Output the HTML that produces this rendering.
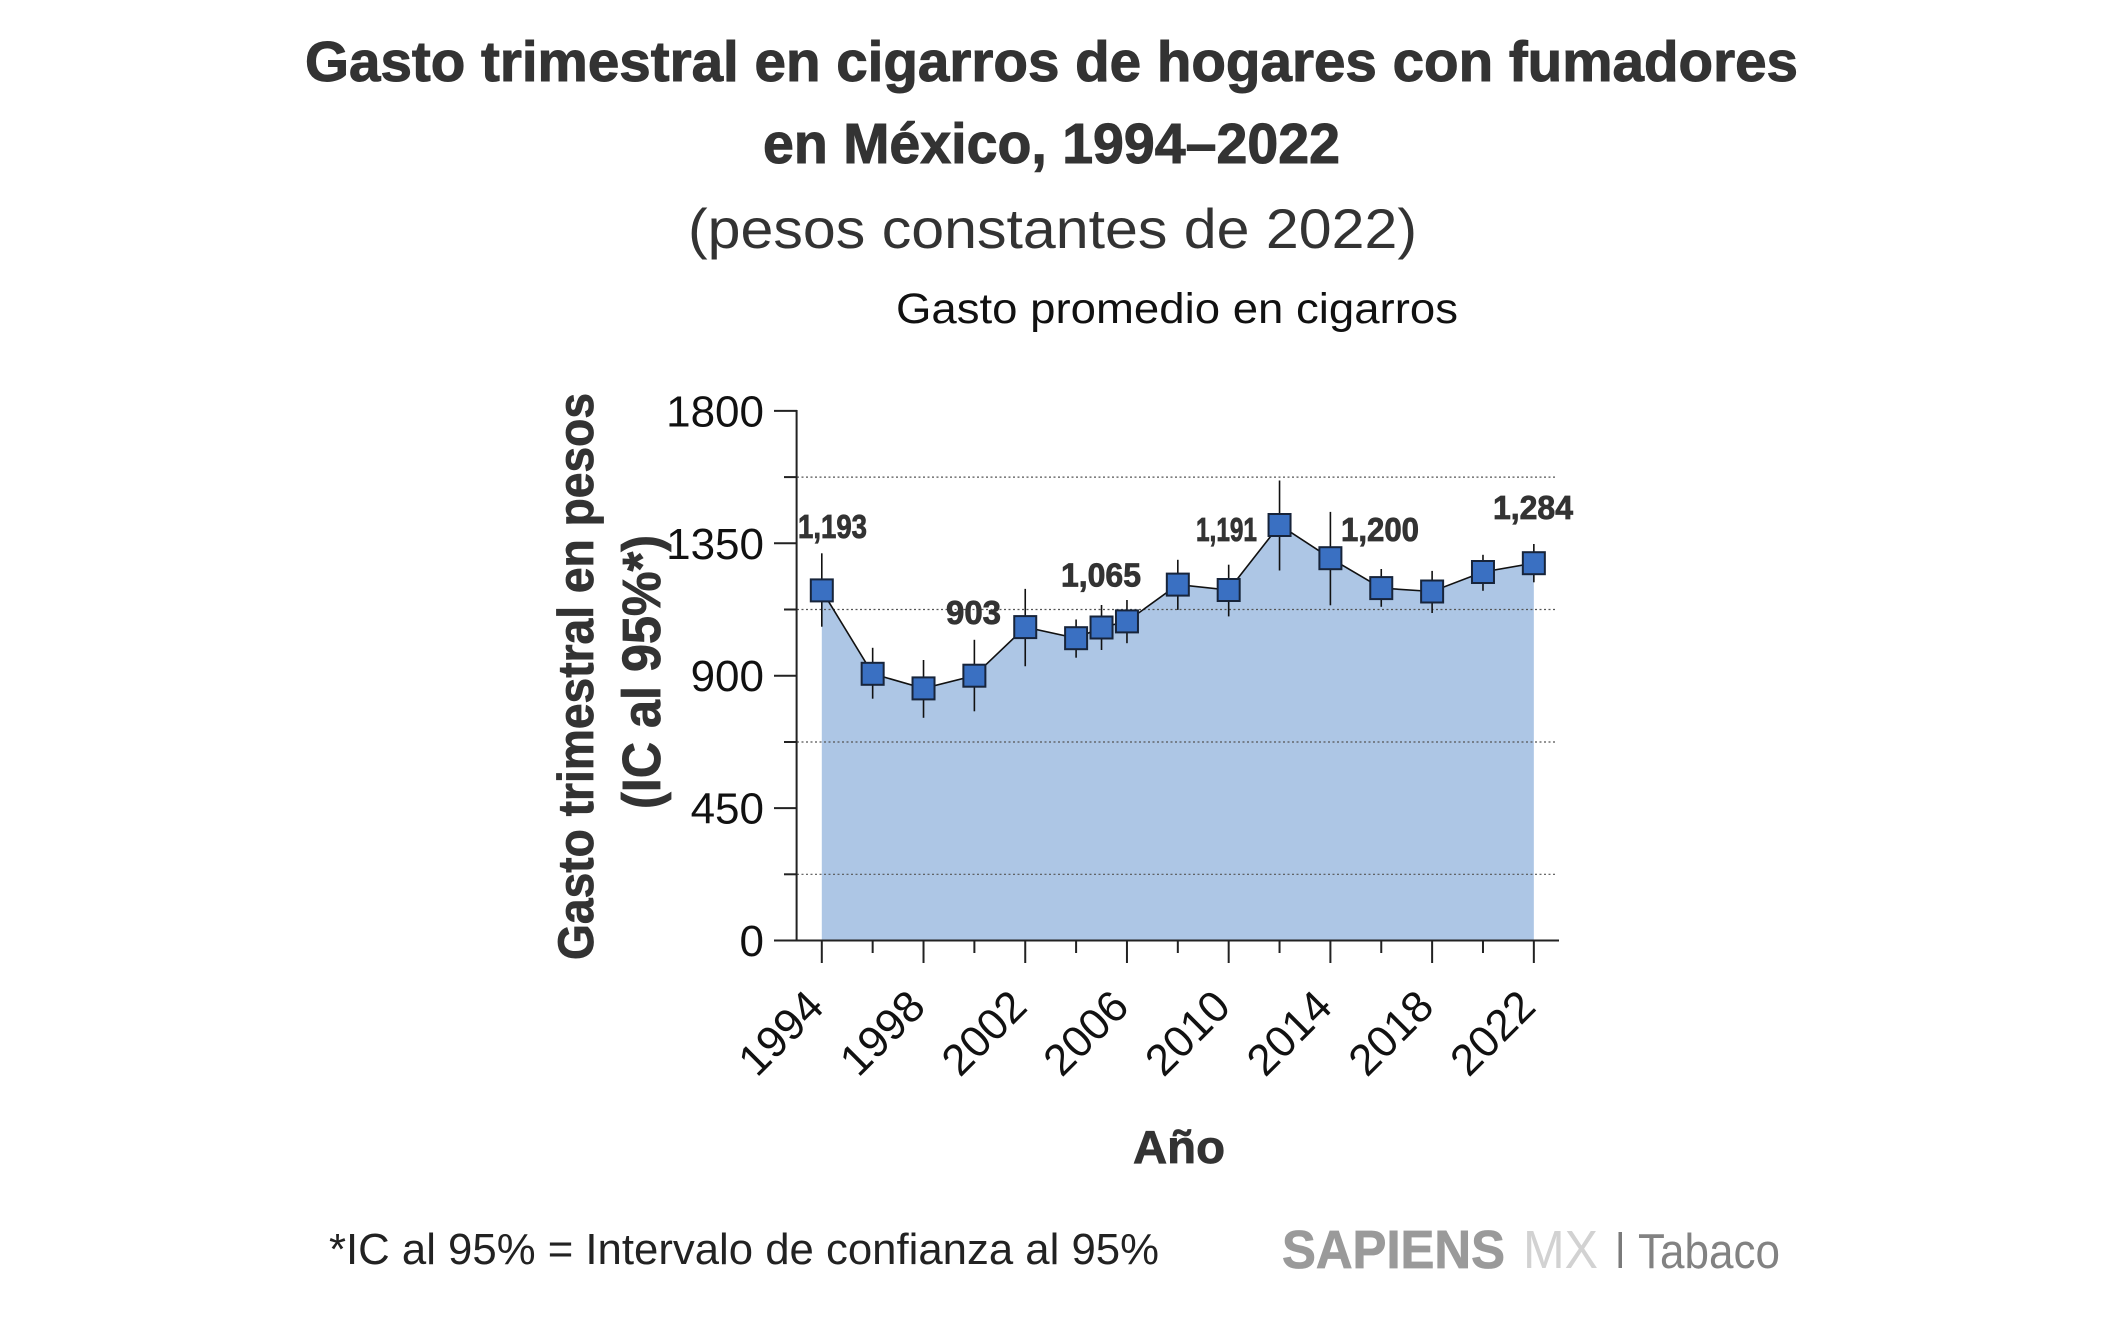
<!DOCTYPE html>
<html><head><meta charset="utf-8"><style>html,body{margin:0;padding:0;background:#fff}svg{display:block}</style></head>
<body>
<svg width="2105" height="1321" viewBox="0 0 2105 1321" xmlns="http://www.w3.org/2000/svg" font-family="Liberation Sans, Arial, sans-serif">
<rect width="2105" height="1321" fill="#fff"/>
<!-- Titles -->
<text x="305" y="81" font-size="57" font-weight="bold" fill="#333" stroke="#333" stroke-width="1" textLength="1493" lengthAdjust="spacingAndGlyphs">Gasto trimestral en cigarros de hogares con fumadores</text>
<text x="763" y="163" font-size="57" font-weight="bold" fill="#333" stroke="#333" stroke-width="1" textLength="577" lengthAdjust="spacingAndGlyphs">en México, 1994–2022</text>
<text x="688" y="248" font-size="56" fill="#333" textLength="729" lengthAdjust="spacingAndGlyphs">(pesos constantes de 2022)</text>
<text x="896" y="323" font-size="43" fill="#111" textLength="562" lengthAdjust="spacingAndGlyphs">Gasto promedio en cigarros</text>

<!-- Y axis title -->
<text transform="translate(593,676.5) rotate(-90)" text-anchor="middle" font-size="50" font-weight="bold" fill="#333" stroke="#333" stroke-width="0.8" textLength="567" lengthAdjust="spacingAndGlyphs">Gasto trimestral en pesos</text>
<text transform="translate(660,672) rotate(-90)" text-anchor="middle" font-size="54" font-weight="bold" fill="#333" stroke="#333" stroke-width="0.8" textLength="274" lengthAdjust="spacingAndGlyphs">(IC al 95%*)</text>

<!-- Fill -->
<polygon fill="#adc6e5" points="821.8,940.5 821.8,590.4 872.66,673.8 923.52,688.4 974.38,675.7 1025.24,627.1 1076.1,638.2 1101.53,627.5 1126.96,621.4 1177.82,584.6 1228.68,590 1279.54,525 1330.4,558.2 1381.26,588.1 1432.12,591.5 1482.98,572 1533.84,563.2 1533.84,940.5"/>

<!-- Grid lines (dotted) -->
<g stroke="#555" stroke-width="1.2" stroke-dasharray="2,2.5">
<line x1="797" y1="874.3" x2="1557" y2="874.3"/>
<line x1="797" y1="742" x2="1557" y2="742"/>
<line x1="797" y1="609.5" x2="1557" y2="609.5"/>
<line x1="797" y1="477.1" x2="1557" y2="477.1"/>
</g>

<!-- Axes -->
<g stroke="#222" stroke-width="2" fill="none">
<line x1="796.6" y1="410" x2="796.6" y2="941.5"/>
<line x1="774" y1="940.5" x2="1559" y2="940.5"/>
<line x1="774" y1="410.9" x2="797" y2="410.9"/>
<line x1="774" y1="543.3" x2="797" y2="543.3"/>
<line x1="774" y1="675.7" x2="797" y2="675.7"/>
<line x1="774" y1="808.1" x2="797" y2="808.1"/>
<line x1="784" y1="477.1" x2="797" y2="477.1"/>
<line x1="784" y1="609.5" x2="797" y2="609.5"/>
<line x1="784" y1="742" x2="797" y2="742"/>
<line x1="784" y1="874.3" x2="797" y2="874.3"/>
<line x1="821.8" y1="940" x2="821.8" y2="963"/>
<line x1="923.52" y1="940" x2="923.52" y2="963"/>
<line x1="1025.24" y1="940" x2="1025.24" y2="963"/>
<line x1="1126.96" y1="940" x2="1126.96" y2="963"/>
<line x1="1228.68" y1="940" x2="1228.68" y2="963"/>
<line x1="1330.4" y1="940" x2="1330.4" y2="963"/>
<line x1="1432.12" y1="940" x2="1432.12" y2="963"/>
<line x1="1533.84" y1="940" x2="1533.84" y2="963"/>
<line x1="872.66" y1="940" x2="872.66" y2="953"/>
<line x1="974.38" y1="940" x2="974.38" y2="953"/>
<line x1="1076.1" y1="940" x2="1076.1" y2="953"/>
<line x1="1177.82" y1="940" x2="1177.82" y2="953"/>
<line x1="1279.54" y1="940" x2="1279.54" y2="953"/>
<line x1="1381.26" y1="940" x2="1381.26" y2="953"/>
<line x1="1482.98" y1="940" x2="1482.98" y2="953"/>
</g>

<!-- Y tick labels -->
<g font-size="44" fill="#111" text-anchor="end">
<text x="764" y="426.4">1800</text>
<text x="764" y="558.8">1350</text>
<text x="764" y="691.2">900</text>
<text x="764" y="823.6">450</text>
<text x="764" y="956">0</text>
</g>

<!-- X tick labels -->
<g font-size="44" fill="#111" text-anchor="end">
<text transform="translate(826,1009) rotate(-45)">1994</text>
<text transform="translate(927.5,1009) rotate(-45)">1998</text>
<text transform="translate(1029.2,1009) rotate(-45)">2002</text>
<text transform="translate(1131,1009) rotate(-45)">2006</text>
<text transform="translate(1232.7,1009) rotate(-45)">2010</text>
<text transform="translate(1334.4,1009) rotate(-45)">2014</text>
<text transform="translate(1436.1,1009) rotate(-45)">2018</text>
<text transform="translate(1537.8,1009) rotate(-45)">2022</text>
</g>

<!-- Connecting line -->
<polyline fill="none" stroke="#111" stroke-width="1.6" points="821.8,590.4 872.66,673.8 923.52,688.4 974.38,675.7 1025.24,627.1 1076.1,638.2 1101.53,627.5 1126.96,621.4 1177.82,584.6 1228.68,590 1279.54,525 1330.4,558.2 1381.26,588.1 1432.12,591.5 1482.98,572 1533.84,563.2"/>

<!-- Error bars -->
<g stroke="#111" stroke-width="1.6">
<line x1="821.8" y1="553.3" x2="821.8" y2="626.7"/>
<line x1="872.66" y1="647.8" x2="872.66" y2="698.7"/>
<line x1="923.52" y1="660" x2="923.52" y2="717.8"/>
<line x1="974.38" y1="639.8" x2="974.38" y2="711.3"/>
<line x1="1025.24" y1="588.9" x2="1025.24" y2="666.2"/>
<line x1="1076.1" y1="619.5" x2="1076.1" y2="657.7"/>
<line x1="1101.53" y1="605" x2="1101.53" y2="650"/>
<line x1="1126.96" y1="600" x2="1126.96" y2="643.2"/>
<line x1="1177.82" y1="559.8" x2="1177.82" y2="609.9"/>
<line x1="1228.68" y1="564.7" x2="1228.68" y2="616.4"/>
<line x1="1279.54" y1="480.5" x2="1279.54" y2="570.5"/>
<line x1="1330.4" y1="511.9" x2="1330.4" y2="605.3"/>
<line x1="1381.26" y1="569" x2="1381.26" y2="606.8"/>
<line x1="1432.12" y1="570.9" x2="1432.12" y2="613"/>
<line x1="1482.98" y1="554.8" x2="1482.98" y2="590.8"/>
<line x1="1533.84" y1="544" x2="1533.84" y2="582.3"/>
</g>

<!-- Markers -->
<g fill="#3a70c2" stroke="#17243a" stroke-width="2">
<rect x="810.8" y="579.4" width="22" height="22"/>
<rect x="861.66" y="662.8" width="22" height="22"/>
<rect x="912.52" y="677.4" width="22" height="22"/>
<rect x="963.38" y="664.7" width="22" height="22"/>
<rect x="1014.24" y="616.1" width="22" height="22"/>
<rect x="1065.1" y="627.2" width="22" height="22"/>
<rect x="1090.53" y="616.5" width="22" height="22"/>
<rect x="1115.96" y="610.4" width="22" height="22"/>
<rect x="1166.82" y="573.6" width="22" height="22"/>
<rect x="1217.68" y="579" width="22" height="22"/>
<rect x="1268.54" y="514" width="22" height="22"/>
<rect x="1319.4" y="547.2" width="22" height="22"/>
<rect x="1370.26" y="577.1" width="22" height="22"/>
<rect x="1421.12" y="580.5" width="22" height="22"/>
<rect x="1471.98" y="561" width="22" height="22"/>
<rect x="1522.84" y="552.2" width="22" height="22"/>
</g>

<!-- Value labels -->
<g font-size="33" font-weight="bold" fill="#333" stroke="#333" stroke-width="0.8">
<text x="798" y="538" textLength="69" lengthAdjust="spacingAndGlyphs">1,193</text>
<text x="946" y="624" textLength="55" lengthAdjust="spacingAndGlyphs">903</text>
<text x="1061" y="586.6" textLength="80" lengthAdjust="spacingAndGlyphs">1,065</text>
<text x="1196" y="541" textLength="61" lengthAdjust="spacingAndGlyphs">1,191</text>
<text x="1341" y="541" textLength="78" lengthAdjust="spacingAndGlyphs">1,200</text>
<text x="1493" y="519" textLength="80" lengthAdjust="spacingAndGlyphs">1,284</text>
</g>

<!-- X axis title -->
<text x="1133" y="1163" font-size="46" font-weight="bold" fill="#333" stroke="#333" stroke-width="0.8" textLength="92" lengthAdjust="spacingAndGlyphs">Año</text>

<!-- Footer -->
<text x="329" y="1264" font-size="44" fill="#222" textLength="830" lengthAdjust="spacingAndGlyphs">*IC al 95% = Intervalo de confianza al 95%</text>
<text x="1282" y="1268" font-size="54" font-weight="bold" fill="#9a9a9a" stroke="#9a9a9a" stroke-width="0.8" textLength="223" lengthAdjust="spacingAndGlyphs">SAPIENS</text>
<text x="1523" y="1268" font-size="54" fill="#d2d2d2" textLength="75" lengthAdjust="spacingAndGlyphs">MX</text>
<rect x="1618.5" y="1232" width="3.5" height="36" fill="#7a7a7a"/>
<text x="1638" y="1268" font-size="49" fill="#828282" textLength="142" lengthAdjust="spacingAndGlyphs">Tabaco</text>
</svg>
</body></html>
